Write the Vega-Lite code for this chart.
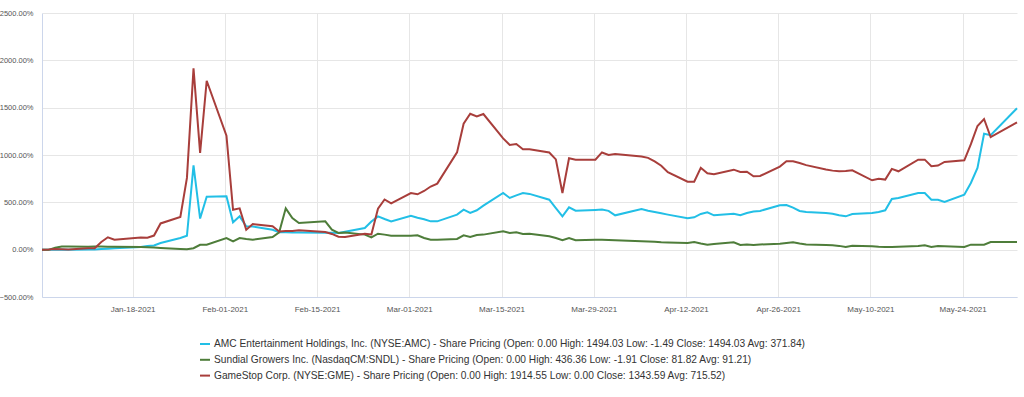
{
"$schema": "https://vega.github.io/schema/vega-lite/v6.json",
"width": 975, "height": 284,
"autosize": "none",
"padding": {"left": 42, "top": 13, "right": 7, "bottom": 100},
"background": "white",
"config": {"view": {"stroke": null}, "font": "Liberation Sans"},
"data": {"values": [
{"date":"2021-01-04","stock":"AMC","pct":0},{"date":"2021-01-04","stock":"SNDL","pct":0},{"date":"2021-01-04","stock":"GME","pct":0},
{"date":"2021-01-05","stock":"AMC","pct":-1.49},{"date":"2021-01-05","stock":"SNDL","pct":-1.91},{"date":"2021-01-05","stock":"GME","pct":0.7},
{"date":"2021-01-06","stock":"AMC","pct":0},{"date":"2021-01-06","stock":"SNDL","pct":20},{"date":"2021-01-06","stock":"GME","pct":6.4},
{"date":"2021-01-07","stock":"AMC","pct":0.5},{"date":"2021-01-07","stock":"SNDL","pct":33},{"date":"2021-01-07","stock":"GME","pct":4.8},
{"date":"2021-01-08","stock":"AMC","pct":-1},{"date":"2021-01-08","stock":"SNDL","pct":34},{"date":"2021-01-08","stock":"GME","pct":2.6},
{"date":"2021-01-11","stock":"AMC","pct":1},{"date":"2021-01-11","stock":"SNDL","pct":32},{"date":"2021-01-11","stock":"GME","pct":15.6},
{"date":"2021-01-12","stock":"AMC","pct":3},{"date":"2021-01-12","stock":"SNDL","pct":34},{"date":"2021-01-12","stock":"GME","pct":15.7},
{"date":"2021-01-13","stock":"AMC","pct":6},{"date":"2021-01-13","stock":"SNDL","pct":33},{"date":"2021-01-13","stock":"GME","pct":82},
{"date":"2021-01-14","stock":"AMC","pct":10},{"date":"2021-01-14","stock":"SNDL","pct":31},{"date":"2021-01-14","stock":"GME","pct":131},
{"date":"2021-01-15","stock":"AMC","pct":15},{"date":"2021-01-15","stock":"SNDL","pct":30},{"date":"2021-01-15","stock":"GME","pct":106},
{"date":"2021-01-19","stock":"AMC","pct":28},{"date":"2021-01-19","stock":"SNDL","pct":28},{"date":"2021-01-19","stock":"GME","pct":128},
{"date":"2021-01-20","stock":"AMC","pct":40},{"date":"2021-01-20","stock":"SNDL","pct":26},{"date":"2021-01-20","stock":"GME","pct":127},
{"date":"2021-01-21","stock":"AMC","pct":45},{"date":"2021-01-21","stock":"SNDL","pct":22},{"date":"2021-01-21","stock":"GME","pct":149},
{"date":"2021-01-22","stock":"AMC","pct":71},{"date":"2021-01-22","stock":"SNDL","pct":18},{"date":"2021-01-22","stock":"GME","pct":277},
{"date":"2021-01-25","stock":"AMC","pct":123},{"date":"2021-01-25","stock":"SNDL","pct":8},{"date":"2021-01-25","stock":"GME","pct":345},
{"date":"2021-01-26","stock":"AMC","pct":147},{"date":"2021-01-26","stock":"SNDL","pct":5},{"date":"2021-01-26","stock":"GME","pct":758},
{"date":"2021-01-27","stock":"AMC","pct":890},{"date":"2021-01-27","stock":"SNDL","pct":15},{"date":"2021-01-27","stock":"GME","pct":1914.55},
{"date":"2021-01-28","stock":"AMC","pct":329},{"date":"2021-01-28","stock":"SNDL","pct":52},{"date":"2021-01-28","stock":"GME","pct":1022},
{"date":"2021-01-29","stock":"AMC","pct":560},{"date":"2021-01-29","stock":"SNDL","pct":53},{"date":"2021-01-29","stock":"GME","pct":1784},
{"date":"2021-02-01","stock":"AMC","pct":563},{"date":"2021-02-01","stock":"SNDL","pct":123},{"date":"2021-02-01","stock":"GME","pct":1204},
{"date":"2021-02-02","stock":"AMC","pct":289},{"date":"2021-02-02","stock":"SNDL","pct":88},{"date":"2021-02-02","stock":"GME","pct":422},
{"date":"2021-02-03","stock":"AMC","pct":352},{"date":"2021-02-03","stock":"SNDL","pct":123},{"date":"2021-02-03","stock":"GME","pct":436},
{"date":"2021-02-04","stock":"AMC","pct":247},{"date":"2021-02-04","stock":"SNDL","pct":112},{"date":"2021-02-04","stock":"GME","pct":210},
{"date":"2021-02-05","stock":"AMC","pct":245},{"date":"2021-02-05","stock":"SNDL","pct":106},{"date":"2021-02-05","stock":"GME","pct":270},
{"date":"2021-02-08","stock":"AMC","pct":211},{"date":"2021-02-08","stock":"SNDL","pct":134},{"date":"2021-02-08","stock":"GME","pct":248},
{"date":"2021-02-09","stock":"AMC","pct":185},{"date":"2021-02-09","stock":"SNDL","pct":183},{"date":"2021-02-09","stock":"GME","pct":192},
{"date":"2021-02-10","stock":"AMC","pct":183},{"date":"2021-02-10","stock":"SNDL","pct":436.36},{"date":"2021-02-10","stock":"GME","pct":197},
{"date":"2021-02-11","stock":"AMC","pct":182},{"date":"2021-02-11","stock":"SNDL","pct":335},{"date":"2021-02-11","stock":"GME","pct":196},
{"date":"2021-02-12","stock":"AMC","pct":182},{"date":"2021-02-12","stock":"SNDL","pct":282},{"date":"2021-02-12","stock":"GME","pct":204},
{"date":"2021-02-16","stock":"AMC","pct":180},{"date":"2021-02-16","stock":"SNDL","pct":299},{"date":"2021-02-16","stock":"GME","pct":187},
{"date":"2021-02-17","stock":"AMC","pct":178},{"date":"2021-02-17","stock":"SNDL","pct":211},{"date":"2021-02-17","stock":"GME","pct":166},
{"date":"2021-02-18","stock":"AMC","pct":176},{"date":"2021-02-18","stock":"SNDL","pct":176},{"date":"2021-02-18","stock":"GME","pct":136},
{"date":"2021-02-19","stock":"AMC","pct":190},{"date":"2021-02-19","stock":"SNDL","pct":180},{"date":"2021-02-19","stock":"GME","pct":135},
{"date":"2021-02-22","stock":"AMC","pct":229},{"date":"2021-02-22","stock":"SNDL","pct":159},{"date":"2021-02-22","stock":"GME","pct":167},
{"date":"2021-02-23","stock":"AMC","pct":298},{"date":"2021-02-23","stock":"SNDL","pct":130},{"date":"2021-02-23","stock":"GME","pct":161},
{"date":"2021-02-24","stock":"AMC","pct":352},{"date":"2021-02-24","stock":"SNDL","pct":169},{"date":"2021-02-24","stock":"GME","pct":432},
{"date":"2021-02-25","stock":"AMC","pct":324},{"date":"2021-02-25","stock":"SNDL","pct":159},{"date":"2021-02-25","stock":"GME","pct":530},
{"date":"2021-02-26","stock":"AMC","pct":299},{"date":"2021-02-26","stock":"SNDL","pct":148},{"date":"2021-02-26","stock":"GME","pct":490},
{"date":"2021-03-01","stock":"AMC","pct":359},{"date":"2021-03-01","stock":"SNDL","pct":148},{"date":"2021-03-01","stock":"GME","pct":598},
{"date":"2021-03-02","stock":"AMC","pct":338},{"date":"2021-03-02","stock":"SNDL","pct":152},{"date":"2021-03-02","stock":"GME","pct":585},
{"date":"2021-03-03","stock":"AMC","pct":322},{"date":"2021-03-03","stock":"SNDL","pct":123},{"date":"2021-03-03","stock":"GME","pct":620},
{"date":"2021-03-04","stock":"AMC","pct":299},{"date":"2021-03-04","stock":"SNDL","pct":106},{"date":"2021-03-04","stock":"GME","pct":667},
{"date":"2021-03-05","stock":"AMC","pct":299},{"date":"2021-03-05","stock":"SNDL","pct":106},{"date":"2021-03-05","stock":"GME","pct":698},
{"date":"2021-03-08","stock":"AMC","pct":370},{"date":"2021-03-08","stock":"SNDL","pct":113},{"date":"2021-03-08","stock":"GME","pct":1028},
{"date":"2021-03-09","stock":"AMC","pct":423},{"date":"2021-03-09","stock":"SNDL","pct":152},{"date":"2021-03-09","stock":"GME","pct":1331},
{"date":"2021-03-10","stock":"AMC","pct":388},{"date":"2021-03-10","stock":"SNDL","pct":134},{"date":"2021-03-10","stock":"GME","pct":1436},
{"date":"2021-03-11","stock":"AMC","pct":416},{"date":"2021-03-11","stock":"SNDL","pct":155},{"date":"2021-03-11","stock":"GME","pct":1407},
{"date":"2021-03-12","stock":"AMC","pct":465},{"date":"2021-03-12","stock":"SNDL","pct":159},{"date":"2021-03-12","stock":"GME","pct":1433},
{"date":"2021-03-15","stock":"AMC","pct":599},{"date":"2021-03-15","stock":"SNDL","pct":194},{"date":"2021-03-15","stock":"GME","pct":1176},
{"date":"2021-03-16","stock":"AMC","pct":546},{"date":"2021-03-16","stock":"SNDL","pct":176},{"date":"2021-03-16","stock":"GME","pct":1107},
{"date":"2021-03-17","stock":"AMC","pct":574},{"date":"2021-03-17","stock":"SNDL","pct":183},{"date":"2021-03-17","stock":"GME","pct":1116},
{"date":"2021-03-18","stock":"AMC","pct":599},{"date":"2021-03-18","stock":"SNDL","pct":166},{"date":"2021-03-18","stock":"GME","pct":1061},
{"date":"2021-03-19","stock":"AMC","pct":589},{"date":"2021-03-19","stock":"SNDL","pct":169},{"date":"2021-03-19","stock":"GME","pct":1061},
{"date":"2021-03-22","stock":"AMC","pct":528},{"date":"2021-03-22","stock":"SNDL","pct":141},{"date":"2021-03-22","stock":"GME","pct":1027},
{"date":"2021-03-23","stock":"AMC","pct":440},{"date":"2021-03-23","stock":"SNDL","pct":123},{"date":"2021-03-23","stock":"GME","pct":954},
{"date":"2021-03-24","stock":"AMC","pct":352},{"date":"2021-03-24","stock":"SNDL","pct":99},{"date":"2021-03-24","stock":"GME","pct":598},
{"date":"2021-03-25","stock":"AMC","pct":447},{"date":"2021-03-25","stock":"SNDL","pct":123},{"date":"2021-03-25","stock":"GME","pct":965},
{"date":"2021-03-26","stock":"AMC","pct":412},{"date":"2021-03-26","stock":"SNDL","pct":99},{"date":"2021-03-26","stock":"GME","pct":949},
{"date":"2021-03-29","stock":"AMC","pct":420},{"date":"2021-03-29","stock":"SNDL","pct":106},{"date":"2021-03-29","stock":"GME","pct":951},
{"date":"2021-03-30","stock":"AMC","pct":423},{"date":"2021-03-30","stock":"SNDL","pct":106},{"date":"2021-03-30","stock":"GME","pct":1027},
{"date":"2021-03-31","stock":"AMC","pct":410},{"date":"2021-03-31","stock":"SNDL","pct":102},{"date":"2021-03-31","stock":"GME","pct":1000},
{"date":"2021-04-01","stock":"AMC","pct":363},{"date":"2021-04-01","stock":"SNDL","pct":99},{"date":"2021-04-01","stock":"GME","pct":1010},
{"date":"2021-04-05","stock":"AMC","pct":430},{"date":"2021-04-05","stock":"SNDL","pct":88},{"date":"2021-04-05","stock":"GME","pct":984},
{"date":"2021-04-06","stock":"AMC","pct":412},{"date":"2021-04-06","stock":"SNDL","pct":86},{"date":"2021-04-06","stock":"GME","pct":970},
{"date":"2021-04-07","stock":"AMC","pct":398},{"date":"2021-04-07","stock":"SNDL","pct":83},{"date":"2021-04-07","stock":"GME","pct":932},
{"date":"2021-04-08","stock":"AMC","pct":384},{"date":"2021-04-08","stock":"SNDL","pct":78},{"date":"2021-04-08","stock":"GME","pct":887},
{"date":"2021-04-09","stock":"AMC","pct":370},{"date":"2021-04-09","stock":"SNDL","pct":75},{"date":"2021-04-09","stock":"GME","pct":818},
{"date":"2021-04-12","stock":"AMC","pct":331},{"date":"2021-04-12","stock":"SNDL","pct":70},{"date":"2021-04-12","stock":"GME","pct":718},
{"date":"2021-04-13","stock":"AMC","pct":342},{"date":"2021-04-13","stock":"SNDL","pct":81},{"date":"2021-04-13","stock":"GME","pct":717},
{"date":"2021-04-14","stock":"AMC","pct":377},{"date":"2021-04-14","stock":"SNDL","pct":65},{"date":"2021-04-14","stock":"GME","pct":865},
{"date":"2021-04-15","stock":"AMC","pct":395},{"date":"2021-04-15","stock":"SNDL","pct":53},{"date":"2021-04-15","stock":"GME","pct":807},
{"date":"2021-04-16","stock":"AMC","pct":363},{"date":"2021-04-16","stock":"SNDL","pct":60},{"date":"2021-04-16","stock":"GME","pct":797},
{"date":"2021-04-19","stock":"AMC","pct":380},{"date":"2021-04-19","stock":"SNDL","pct":78},{"date":"2021-04-19","stock":"GME","pct":845},
{"date":"2021-04-20","stock":"AMC","pct":363},{"date":"2021-04-20","stock":"SNDL","pct":50},{"date":"2021-04-20","stock":"GME","pct":821},
{"date":"2021-04-21","stock":"AMC","pct":387},{"date":"2021-04-21","stock":"SNDL","pct":55},{"date":"2021-04-21","stock":"GME","pct":823},
{"date":"2021-04-22","stock":"AMC","pct":402},{"date":"2021-04-22","stock":"SNDL","pct":50},{"date":"2021-04-22","stock":"GME","pct":775},
{"date":"2021-04-23","stock":"AMC","pct":409},{"date":"2021-04-23","stock":"SNDL","pct":55},{"date":"2021-04-23","stock":"GME","pct":778},
{"date":"2021-04-26","stock":"AMC","pct":469},{"date":"2021-04-26","stock":"SNDL","pct":63},{"date":"2021-04-26","stock":"GME","pct":877},
{"date":"2021-04-27","stock":"AMC","pct":472},{"date":"2021-04-27","stock":"SNDL","pct":70},{"date":"2021-04-27","stock":"GME","pct":933},
{"date":"2021-04-28","stock":"AMC","pct":444},{"date":"2021-04-28","stock":"SNDL","pct":78},{"date":"2021-04-28","stock":"GME","pct":933},
{"date":"2021-04-29","stock":"AMC","pct":409},{"date":"2021-04-29","stock":"SNDL","pct":65},{"date":"2021-04-29","stock":"GME","pct":915},
{"date":"2021-04-30","stock":"AMC","pct":398},{"date":"2021-04-30","stock":"SNDL","pct":55},{"date":"2021-04-30","stock":"GME","pct":893},
{"date":"2021-05-03","stock":"AMC","pct":388},{"date":"2021-05-03","stock":"SNDL","pct":50},{"date":"2021-05-03","stock":"GME","pct":846},
{"date":"2021-05-04","stock":"AMC","pct":380},{"date":"2021-05-04","stock":"SNDL","pct":46},{"date":"2021-05-04","stock":"GME","pct":835},
{"date":"2021-05-05","stock":"AMC","pct":363},{"date":"2021-05-05","stock":"SNDL","pct":40},{"date":"2021-05-05","stock":"GME","pct":828},
{"date":"2021-05-06","stock":"AMC","pct":352},{"date":"2021-05-06","stock":"SNDL","pct":28},{"date":"2021-05-06","stock":"GME","pct":830},
{"date":"2021-05-07","stock":"AMC","pct":377},{"date":"2021-05-07","stock":"SNDL","pct":42},{"date":"2021-05-07","stock":"GME","pct":839},
{"date":"2021-05-10","stock":"AMC","pct":388},{"date":"2021-05-10","stock":"SNDL","pct":35},{"date":"2021-05-10","stock":"GME","pct":733},
{"date":"2021-05-11","stock":"AMC","pct":398},{"date":"2021-05-11","stock":"SNDL","pct":30},{"date":"2021-05-11","stock":"GME","pct":750},
{"date":"2021-05-12","stock":"AMC","pct":416},{"date":"2021-05-12","stock":"SNDL","pct":28},{"date":"2021-05-12","stock":"GME","pct":740},
{"date":"2021-05-13","stock":"AMC","pct":536},{"date":"2021-05-13","stock":"SNDL","pct":28},{"date":"2021-05-13","stock":"GME","pct":853},
{"date":"2021-05-14","stock":"AMC","pct":546},{"date":"2021-05-14","stock":"SNDL","pct":30},{"date":"2021-05-14","stock":"GME","pct":828},
{"date":"2021-05-17","stock":"AMC","pct":599},{"date":"2021-05-17","stock":"SNDL","pct":40},{"date":"2021-05-17","stock":"GME","pct":951},
{"date":"2021-05-18","stock":"AMC","pct":599},{"date":"2021-05-18","stock":"SNDL","pct":46},{"date":"2021-05-18","stock":"GME","pct":951},
{"date":"2021-05-19","stock":"AMC","pct":528},{"date":"2021-05-19","stock":"SNDL","pct":28},{"date":"2021-05-19","stock":"GME","pct":881},
{"date":"2021-05-20","stock":"AMC","pct":528},{"date":"2021-05-20","stock":"SNDL","pct":38},{"date":"2021-05-20","stock":"GME","pct":888},
{"date":"2021-05-21","stock":"AMC","pct":504},{"date":"2021-05-21","stock":"SNDL","pct":35},{"date":"2021-05-21","stock":"GME","pct":927},
{"date":"2021-05-24","stock":"AMC","pct":581},{"date":"2021-05-24","stock":"SNDL","pct":28},{"date":"2021-05-24","stock":"GME","pct":944},
{"date":"2021-05-25","stock":"AMC","pct":704},{"date":"2021-05-25","stock":"SNDL","pct":53},{"date":"2021-05-25","stock":"GME","pct":1114},
{"date":"2021-05-26","stock":"AMC","pct":863},{"date":"2021-05-26","stock":"SNDL","pct":53},{"date":"2021-05-26","stock":"GME","pct":1306},
{"date":"2021-05-27","stock":"AMC","pct":1225},{"date":"2021-05-27","stock":"SNDL","pct":53},{"date":"2021-05-27","stock":"GME","pct":1380},
{"date":"2021-05-28","stock":"AMC","pct":1210},{"date":"2021-05-28","stock":"SNDL","pct":81},{"date":"2021-05-28","stock":"GME","pct":1190},
{"date":"2021-06-01","stock":"AMC","pct":1494.03},{"date":"2021-06-01","stock":"SNDL","pct":81.82},{"date":"2021-06-01","stock":"GME","pct":1343.59}
]},
"mark": {"type": "line", "strokeWidth": 2, "interpolate": "linear"},
"encoding": {
  "x": {"field": "date", "type": "temporal",
    "scale": {"domain": [{"year":2021,"month":1,"date":4,"utc":true},{"year":2021,"month":6,"date":1,"utc":true}]},
    "axis": {"title": null, "grid": true, "gridColor": "#e6e6e6", "ticks": false, "domain": true, "domainColor": "#ccd6eb",
      "values": [
        {"year":2021,"month":1,"date":17,"hours":18,"utc":true},
        {"year":2021,"month":1,"date":31,"hours":18,"utc":true},
        {"year":2021,"month":2,"date":14,"hours":18,"utc":true},
        {"year":2021,"month":2,"date":28,"hours":18,"utc":true},
        {"year":2021,"month":3,"date":14,"hours":18,"utc":true},
        {"year":2021,"month":3,"date":28,"hours":18,"utc":true},
        {"year":2021,"month":4,"date":11,"hours":18,"utc":true},
        {"year":2021,"month":4,"date":25,"hours":18,"utc":true},
        {"year":2021,"month":5,"date":9,"hours":18,"utc":true},
        {"year":2021,"month":5,"date":23,"hours":18,"utc":true}
      ],
      "labelExpr": "utcFormat(datum.value + 21600000, '%b-%d-%Y')",
      "labelFontSize": 8, "labelColor": "#555555", "labelPadding": 8, "labelFont": "Liberation Sans", "labelOverlap": false}},
  "y": {"field": "pct", "type": "quantitative",
    "scale": {"domain": [-500, 2500], "nice": false, "zero": false},
    "axis": {"title": null, "grid": true, "gridColor": "#e6e6e6", "ticks": false, "domain": true, "domainColor": "#ccd6eb",
      "values": [-500, 0, 500, 1000, 1500, 2000, 2500],
      "labelExpr": "format(datum.value, '.2f') + '%'",
      "labelFontSize": 7.5, "labelColor": "#555555", "labelPadding": 9, "labelFont": "Liberation Sans"}},
  "color": {"field": "stock", "type": "nominal", "sort": ["AMC", "SNDL", "GME"],
    "scale": {"domain": ["AMC", "SNDL", "GME"], "range": ["#22bfe6", "#4e7d3a", "#a83e3b"]},
    "legend": {"orient": "none", "legendX": 157, "legendY": 325, "direction": "vertical", "title": null,
      "symbolType": "stroke", "symbolStrokeWidth": 2, "symbolSize": 100, "labelOffset": 3,
      "labelFontSize": 10.2, "labelFont": "Liberation Sans", "labelColor": "#333333", "rowPadding": 3.8, "labelLimit": 2000,
      "labelExpr": "datum.value == 'AMC' ? 'AMC Entertainment Holdings, Inc. (NYSE:AMC) - Share Pricing (Open: 0.00 High: 1494.03 Low: -1.49 Close: 1494.03 Avg: 371.84)' : datum.value == 'SNDL' ? 'Sundial Growers Inc. (NasdaqCM:SNDL) - Share Pricing (Open: 0.00 High: 436.36 Low: -1.91 Close: 81.82 Avg: 91.21)' : 'GameStop Corp. (NYSE:GME) - Share Pricing (Open: 0.00 High: 1914.55 Low: 0.00 Close: 1343.59 Avg: 715.52)'"}}
}
}
